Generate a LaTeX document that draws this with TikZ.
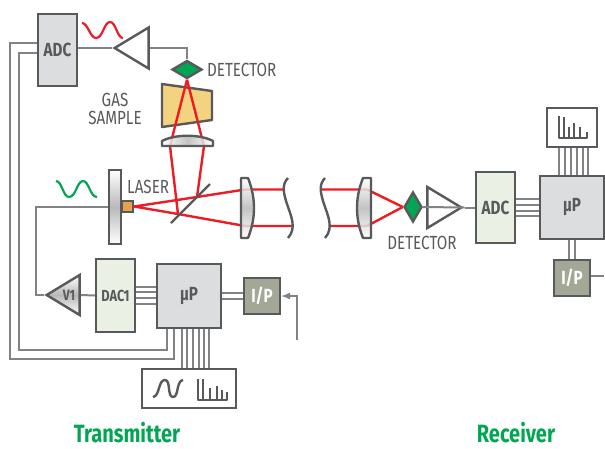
\documentclass[tikz,border=0pt]{standalone}
\usepackage{fontspec}
\setmainfont{Fira Sans}[FakeStretch=0.8]
\usetikzlibrary{shapes.geometric}
\definecolor{linegray}{HTML}{58595B}
\definecolor{wiregray}{HTML}{808285}
\definecolor{boxgray}{HTML}{DCDDDF}
\definecolor{palegreen}{HTML}{EBF0E5}
\definecolor{ipgreen}{HTML}{A3A896}
\definecolor{gasyellow}{HTML}{F3D37F}
\definecolor{laserorange}{HTML}{E8A24A}
\definecolor{beamred}{HTML}{ED1C24}
\definecolor{titlegreen}{HTML}{00A651}
\begin{document}
\begin{tikzpicture}[x=1pt, y=-1pt]
\tikzstyle{block} = [draw=linegray, line width=2.4pt, inner sep=0pt, text=linegray, font=\bfseries\fontsize{19}{19}\selectfont]
\tikzstyle{graybox} = [block, fill=boxgray]
\tikzstyle{greenbox} = [block, fill=palegreen]
\tikzstyle{ipbox} = [block, fill=ipgreen, text=white, minimum width=36pt, minimum height=36pt, font=\bfseries\fontsize{19}{19}\selectfont]
\tikzstyle{whitebox} = [block, fill=white]
\tikzstyle{sensor} = [diamond, draw=linegray, line width=2.4pt, fill=titlegreen, inner sep=0pt]
\tikzstyle{amp} = [isosceles triangle, isosceles triangle stretches, shape border rotate=180, draw=linegray, line width=2.4pt, inner sep=0pt, anchor=apex]
\tikzstyle{wire} = [draw=wiregray, line width=2pt]
\tikzstyle{beam} = [draw=beamred, line width=2.4pt]
\tikzstyle{outline} = [draw=linegray, line width=2.4pt, line join=round]
\tikzstyle{glass} = [outline, top color=white, bottom color=white, middle color=gray!55, fill opacity=.85]
\tikzstyle{caption} = [text=linegray, align=center, inner sep=0pt, font=\fontsize{19}{18}\selectfont]
\tikzstyle{title} = [text=titlegreen, inner sep=0pt, anchor=base, font=\bfseries\fontsize{25}{25}\selectfont]
\useasboundingbox (0,0) rectangle (605,448);
% transmitter
\node[graybox, minimum width=39pt, minimum height=72pt] (adctop) at (57.5,50) {ADC};
\node[amp, minimum width=41pt, minimum height=34pt] (amptop) at (111.5,48) {};
\node[sensor, minimum width=30pt, minimum height=18pt, aspect=1.67] (dettop) at (187,69.5) {};
\node[caption, anchor=west] (dettoplabel) at (207,70) {DETECTOR};
\node[caption] (gaslabel) at (115,109) {GAS\\SAMPLE};
\node[draw=linegray, line width=2.4pt, top color=white, bottom color=white, middle color=gray!55, minimum width=12pt, minimum height=74pt, inner sep=0pt] (plate) at (115,207) {};
\node[draw=linegray, line width=2.4pt, fill=laserorange, minimum size=11pt, inner sep=0pt] (laser) at (127.5,206.5) {};
\node[caption, anchor=west] (laserlabel) at (127,187) {LASER};
\node[amp, minimum width=40pt, minimum height=33pt, top color=white, bottom color=white, middle color=gray!55] (ampv) at (43.5,295) {};
\node[inner sep=0pt, text=linegray, font=\bfseries\fontsize{15}{15}\selectfont] (v) at (69,295) {V1};
\node[greenbox, minimum width=39pt, minimum height=73pt, font=\bfseries\fontsize{16}{16}\selectfont] (dac) at (115.5,295.5) {DAC1};
\node[graybox, minimum width=64pt, minimum height=64pt] (uptx) at (189,296) {µP};
\node[ipbox] (iptx) at (262,296) {I/P};
\node[whitebox, minimum width=94pt, minimum height=39pt] (scope) at (189,388.5) {};
\coordinate (input) at (297,340);
\node[title] (tx) at (127,442) {Transmitter};
% receiver
\node[sensor, minimum width=18pt, minimum height=30pt, aspect=.6] (detrx) at (413,207) {};
\node[caption] (detrxlabel) at (422,243) {DETECTOR};
\node[amp, shape border rotate=0, anchor=apex, minimum width=41pt, minimum height=34pt, fill=white] (amprx) at (464.5,207.5) {};
\node[greenbox, minimum width=39pt, minimum height=71pt] (adcrx) at (495.5,207.5) {ADC};
\node[graybox, minimum width=64pt, minimum height=63pt] (uprx) at (572,207.5) {µP};
\node[whitebox, minimum width=50pt, minimum height=39pt] (spectrum) at (572,127.5) {};
\node[ipbox] (iprx) at (572,278) {I/P};
\coordinate (output) at (604,276);
\node[title] (rx) at (516,442) {Receiver};
% wiring
\draw[wire] (adctop.east |- amptop.apex) -- (amptop.apex);
\draw[wire] (amprx.apex) -- (adcrx.west |- amprx.apex);
\draw[wire] (amptop.east) -| (dettop.north);
\draw[wire] (detrx.east) -- (amprx.east);
\draw[wire] (plate.west) -| (36,295) -- (ampv.apex);
\draw[wire] (ampv.east) -- (dac.west);
\draw[wire] (adctop.west |- 0,53) -| (19,350) -| (uptx.south -| 167,0);
\draw[wire] (adctop.west |- 0,43) -| (10,359) -| (uptx.south -| 174,0);
\foreach \y in {287,292,298,304}
\draw[wire] (dac.east |- 0,\y) -- (uptx.west |- 0,\y);
\foreach \y in {293,299}
\draw[wire] (uptx.east |- 0,\y) -- (iptx.west |- 0,\y);
\foreach \x in {182,187,193,199,204,209}
\draw[wire] (uptx.south -| \x,0) -- (scope.north -| \x,0);
\foreach \y in {199,205,211,216}
\draw[wire] (adcrx.east |- 0,\y) -- (uprx.west |- 0,\y);
\foreach \x in {559,565,571,577,583,588}
\draw[wire] (uprx.north -| \x,0) -- (spectrum.south -| \x,0);
\foreach \x in {569,575}
\draw[wire] (uprx.south -| \x,0) -- (iprx.north -| \x,0);
\draw[wire] (iprx.east |- output) -- (output);
\draw[wire, -latex] (input) |- (iptx.east);
% optics
\draw[outline, fill=gasyellow] (162,84) -- (212,91) -- (212,120) -- (162,127) -- cycle;
\coordinate (splitlow) at (178,214);
\coordinate (splithigh) at (197,197);
\coordinate (lenslow) at (170,146);
\coordinate (lenshigh) at (204,146);
\coordinate (farhigh) at (245,189.5);
\coordinate (farlow) at (245,226);
\draw[beam, line join=round] (dettop.south) -- (lenslow) -- (splitlow) -- (laser.east) -- (splithigh) -- (lenshigh) -- (dettop.south);
\draw[beam] (splithigh) -- (farhigh) -- (284,189.5);
\draw[beam] (splitlow) -- (farlow) -- (293,226);
\draw[beam] (320,189.5) -- (367,189.5) -- (detrx.west);
\draw[beam] (330,226) -- (367,226) -- (detrx.west);
\draw[outline] (171,223) -- (210,184);
\draw[glass, shading angle=90] (162,146) -- (162,141) .. controls (175,134) and (200,134) .. (213,141) -- (213,146) -- cycle;
\draw[glass] (241,178) -- (248,178) .. controls (256,198) and (256,218) .. (248,238) -- (241,238) -- cycle;
\draw[glass] (371,178) -- (363,178) .. controls (355,198) and (355,218) .. (363,238) -- (371,238) -- cycle;
\draw[outline] (288,178) .. controls (282,184) and (283,192) .. (287,204) .. controls (291,216) and (297,228) .. (288,238);
\draw[outline] (325,178) .. controls (319,184) and (320,192) .. (324,204) .. controls (328,216) and (334,228) .. (325,238);
% traces
\draw[draw=beamred, line width=2.2pt] (82,23) .. controls (88,23) and (90,38) .. (96,38) .. controls (103,38) and (104,22) .. (110,22) .. controls (116,22) and (117,38) .. (123,38);
\draw[draw=titlegreen, line width=2.2pt] (56,181) .. controls (62,181) and (63,197) .. (69,197) .. controls (76,197) and (77,181) .. (83,181) .. controls (89,181) and (90,197) .. (97,197);
\draw[outline] (153,397) .. controls (160,396) and (158,380) .. (165,380) .. controls (171,380) and (167,397) .. (173,397) .. controls (179,397) and (176,381) .. (183,380);
\draw[outline] (198,379) -- (198,400) -- (227,400) -- (227,392);
\foreach \x/\top in {203/379, 210/388, 217/386, 222/390}
\draw[outline] (\x,400) -- (\x,\top);
\draw[outline] (559,116) -- (559,138) -- (587,138) -- (587,132);
\foreach \x/\top in {564/117, 569/127, 574/123, 580/127}
\draw[outline] (\x,138) -- (\x,\top);
\end{tikzpicture}
\end{document}
